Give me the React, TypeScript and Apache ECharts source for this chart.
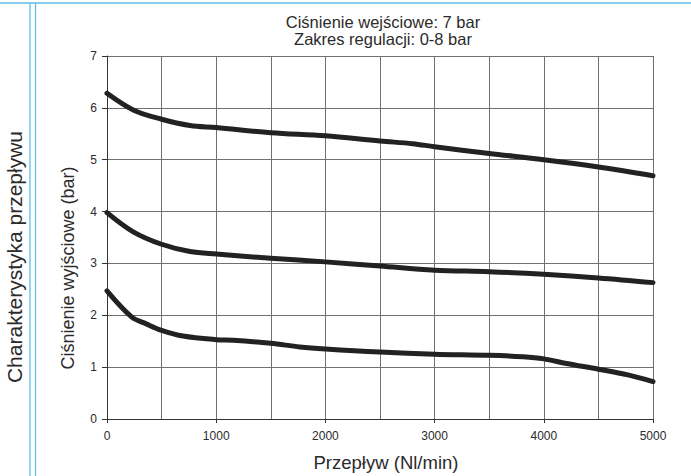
import React, { useEffect, useRef } from "react";
import * as echarts from "echarts";

const titleLines = ["Ciśnienie wejściowe: 7 bar", "Zakres regulacji: 0-8 bar"];
const sideLabel = "Charakterystyka przepływu";
const xName = "Przepływ (Nl/min)";
const yName = "Ciśnienie wyjściowe (bar)";

const topFlow = [0, 240, 500, 760, 1000, 1500, 2000, 2500, 2800, 3000, 3500, 4000, 4500, 5000];
const topPressure = [6.28, 5.96, 5.78, 5.66, 5.62, 5.52, 5.46, 5.36, 5.31, 5.25, 5.12, 5.0, 4.86, 4.69];

const midFlow = [0, 240, 500, 760, 1000, 1500, 2000, 2500, 3000, 3500, 4000, 4500, 5000];
const midPressure = [3.98, 3.61, 3.37, 3.23, 3.18, 3.1, 3.03, 2.95, 2.87, 2.84, 2.79, 2.72, 2.63];

const lowFlow = [0, 225, 364, 500, 696, 1000, 1155, 1500, 1765, 2000, 2500, 3000, 3500, 3810, 4000, 4207, 4500, 4770, 5000];
const lowPressure = [2.47, 1.97, 1.83, 1.71, 1.6, 1.53, 1.52, 1.46, 1.39, 1.35, 1.29, 1.25, 1.23, 1.2, 1.16, 1.07, 0.96, 0.85, 0.72];

const FONT = "Liberation Sans";
const TEXT = "#2b2b2b";
const GRIDC = "#707070";
const BLUE = "#62bde9";

function pairs(xs: number[], ys: number[]) {
  return xs.map((x, i) => [x, ys[i]]);
}

function curve(xs: number[], ys: number[]) {
  return {
    type: "line",
    data: pairs(xs, ys),
    smooth: 0.35,
    showSymbol: false,
    symbol: "none",
    lineStyle: { color: "#222222", width: 5, cap: "round", join: "round" },
    z: 5,
  };
}

export default function App() {
  const ref = useRef<HTMLDivElement>(null);
  useEffect(() => {
    document.body.style.margin = "0";
    const chart = echarts.init(ref.current!, null, { renderer: "svg" });
    chart.setOption({
      animation: false,
      backgroundColor: "#ffffff",
      textStyle: { fontFamily: FONT },
      title: {
        text: titleLines.join("\n"),
        left: 378,
        top: 9,
        textAlign: "center",
        textStyle: { fontFamily: FONT, fontSize: 16.5, fontWeight: "normal", color: TEXT, lineHeight: 16.5 },
      },
      grid: { left: 107, right: 38, top: 56, bottom: 57, containLabel: false },
      xAxis: {
        type: "value",
        min: 0,
        max: 5000,
        interval: 1000,
        axisLine: { show: true, lineStyle: { color: "#333333", width: 1 } },
        axisTick: { show: true, length: 4, lineStyle: { color: "#333333" } },
        axisLabel: { fontFamily: FONT, fontSize: 12, color: TEXT, margin: 11, formatter: (v: number) => String(v) },
        splitLine: { show: true, lineStyle: { color: GRIDC, width: 1 } },
        minorTick: { show: false, splitNumber: 2 },
        minorSplitLine: { show: true, lineStyle: { color: GRIDC, width: 1 } },
      },
      yAxis: {
        type: "value",
        min: 0,
        max: 7,
        interval: 1,
        axisLine: { show: true, lineStyle: { color: "#333333", width: 1 } },
        axisTick: { show: true, length: 5, lineStyle: { color: "#333333" } },
        axisLabel: { fontFamily: FONT, fontSize: 12, color: TEXT, margin: 10, formatter: (v: number) => String(v) },
        splitLine: { show: true, lineStyle: { color: GRIDC, width: 1 } },
      },
      graphic: [
        { type: "line", shape: { x1: 0, y1: 3, x2: 691, y2: 3 }, style: { stroke: BLUE, lineWidth: 1.3 } },
        { type: "line", shape: { x1: 30, y1: 3, x2: 30, y2: 476 }, style: { stroke: BLUE, lineWidth: 1.3 } },
        { type: "line", shape: { x1: 35.5, y1: 3, x2: 35.5, y2: 476 }, style: { stroke: BLUE, lineWidth: 1.3 } },
        {
          type: "text",
          x: 14,
          y: 257,
          rotation: Math.PI / 2,
          style: { text: sideLabel, fill: TEXT, fontFamily: FONT, fontSize: 21, align: "center", verticalAlign: "middle" },
        },
        {
          type: "text",
          x: 68,
          y: 268,
          rotation: Math.PI / 2,
          style: { text: yName, fill: TEXT, fontFamily: FONT, fontSize: 18, align: "center", verticalAlign: "middle" },
        },
        {
          type: "text",
          x: 386,
          y: 462,
          style: { text: xName, fill: TEXT, fontFamily: FONT, fontSize: 18.5, align: "center", verticalAlign: "middle" },
        },
      ],
      series: [
        curve(topFlow, topPressure),
        curve(midFlow, midPressure),
        curve(lowFlow, lowPressure),
      ],
    });
    return () => chart.dispose();
  }, []);
  return <div ref={ref} style={{ position: "fixed", left: 0, top: 0, width: 691, height: 476 }} />;
}
